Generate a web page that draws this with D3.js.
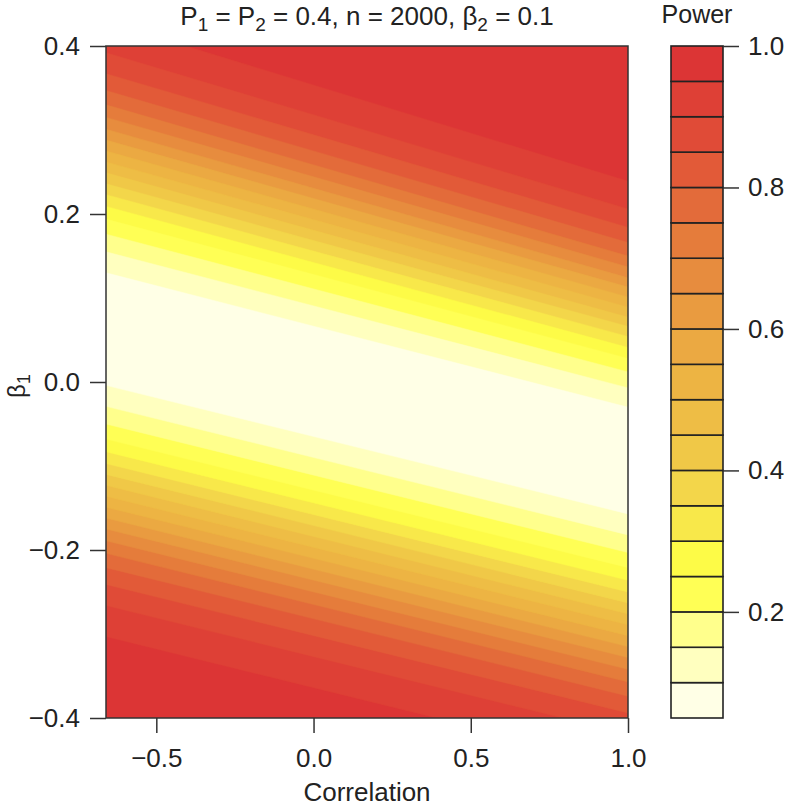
<!DOCTYPE html>
<html>
<head>
<meta charset="utf-8">
<script src="https://cdn.jsdelivr.net/npm/d3@7"></script>
<style>
  body { margin: 0; background: #fff; }
  text { font-family: "Liberation Sans", Arial, sans-serif; fill: #222; }
</style>
</head>
<body>
<div id="chart"></div>
<script>
// contour levels of power and where each level line meets the left / right plot edge (beta1 values)
var corrEnds = [-0.66, 1.0];
var levels = [0.10, 0.15, 0.20, 0.25, 0.30, 0.35, 0.40, 0.45, 0.50, 0.55, 0.60, 0.65, 0.70, 0.75, 0.80, 0.85, 0.90, 0.95];
var upperLeft  = [0.130, 0.155, 0.176, 0.194, 0.209, 0.223, 0.236, 0.249, 0.262, 0.275, 0.288, 0.301, 0.315, 0.330, 0.347, 0.367, 0.392, 0.429];
var lowerLeft  = [-0.004, -0.029, -0.050, -0.068, -0.083, -0.097, -0.110, -0.123, -0.136, -0.149, -0.162, -0.175, -0.189, -0.204, -0.221, -0.241, -0.266, -0.303];
var upperRight = [-0.030, -0.007, 0.012, 0.028, 0.041, 0.054, 0.066, 0.077, 0.089, 0.101, 0.113, 0.124, 0.137, 0.150, 0.166, 0.184, 0.206, 0.239];
var lowerRight = [-0.157, -0.182, -0.203, -0.221, -0.236, -0.250, -0.263, -0.276, -0.289, -0.302, -0.315, -0.328, -0.342, -0.357, -0.374, -0.394, -0.419, -0.456];

// colour key: band lower bounds and colours
var bandStarts = [0.05, 0.10, 0.15, 0.20, 0.25, 0.30, 0.35, 0.40, 0.45, 0.50, 0.55, 0.60, 0.65, 0.70, 0.75, 0.80, 0.85, 0.90, 0.95];
var bandColors = ["#FFFFE6", "#FFFFBF", "#FFFF8C", "#FFFF55", "#FDFB47", "#F8E84A", "#F3D64A", "#F0C847", "#EEBD45",
                  "#EDB443", "#EBA942", "#E99B40", "#E78C3E", "#E57C3B", "#E36B3A", "#E25A38", "#E04B37", "#DE4036", "#DC3535"];
var bandStep = 0.05;

var xTicks = [-0.5, 0.0, 0.5, 1.0];
var yTicks = [-0.4, -0.2, 0.0, 0.2, 0.4];
var keyTicks = [0.2, 0.4, 0.6, 0.8, 1.0];

var W = 789, H = 806;
var plot = {left: 106, right: 628, top: 46, bottom: 718};
var key = {left: 671, right: 723};

var svg = d3.select("#chart").append("svg")
  .attr("width", W)
  .attr("height", H);

var x = d3.scaleLinear().domain([corrEnds[0], corrEnds[1]]).range([plot.left, plot.right]);
var y = d3.scaleLinear().domain([-0.4, 0.4]).range([plot.bottom, plot.top]);

svg.append("clipPath").attr("id", "plotclip")
  .append("rect")
  .attr("x", plot.left).attr("y", plot.top)
  .attr("width", plot.right - plot.left).attr("height", plot.bottom - plot.top);

var g = svg.append("g").attr("clip-path", "url(#plotclip)");

// highest band fills the whole plot, then each level's inner region is painted over it
g.append("rect")
  .attr("x", plot.left).attr("y", plot.top)
  .attr("width", plot.right - plot.left).attr("height", plot.bottom - plot.top)
  .attr("fill", bandColors[bandColors.length - 1]);

var idx = d3.range(levels.length).reverse();
g.selectAll("path.band")
  .data(idx)
  .enter()
  .append("path")
  .attr("class", "band")
  .attr("d", function(k) {
    var pts = [
      [x(corrEnds[0]), y(upperLeft[k])],
      [x(corrEnds[1]), y(upperRight[k])],
      [x(corrEnds[1]), y(lowerRight[k])],
      [x(corrEnds[0]), y(lowerLeft[k])]
    ];
    return "M" + pts.join("L") + "Z";
  })
  .attr("fill", function(k) { return bandColors[k]; })
  .attr("stroke", function(k) { return bandColors[k]; })
  .attr("stroke-width", 0.5);

// box
svg.append("rect")
  .attr("x", plot.left).attr("y", plot.top)
  .attr("width", plot.right - plot.left).attr("height", plot.bottom - plot.top)
  .attr("fill", "none")
  .attr("stroke", "#333")
  .attr("stroke-width", 1.5);

// axes
var fmt = d3.format(".1f");
var xAxis = svg.append("g")
  .attr("transform", "translate(0," + plot.bottom + ")")
  .call(d3.axisBottom(x).tickValues(xTicks).tickFormat(fmt).tickSize(15).tickPadding(16));
var yAxis = svg.append("g")
  .attr("transform", "translate(" + plot.left + ",0)")
  .call(d3.axisLeft(y).tickValues(yTicks).tickFormat(fmt).tickSize(16).tickPadding(10));

[xAxis, yAxis].forEach(function(a) {
  a.select(".domain").remove();
  a.selectAll("line").attr("stroke", "#333").attr("stroke-width", 1.5);
  a.selectAll("text").style("font-size", "26px").attr("fill", "#222");
});

// colour key
var yKey = d3.scaleLinear().domain([bandStarts[0], 1.0]).range([plot.bottom, plot.top]);

svg.selectAll("rect.key")
  .data(bandStarts)
  .enter()
  .append("rect")
  .attr("class", "key")
  .attr("x", key.left)
  .attr("width", key.right - key.left)
  .attr("y", function(d) { return yKey(d + bandStep); })
  .attr("height", function(d) { return yKey(d) - yKey(d + bandStep); })
  .attr("fill", function(d, i) { return bandColors[i]; })
  .attr("stroke", "#222")
  .attr("stroke-width", 1.6);

var keyAxis = svg.append("g")
  .attr("transform", "translate(" + key.right + ",0)")
  .call(d3.axisRight(yKey).tickValues(keyTicks).tickFormat(fmt).tickSize(16).tickPadding(9));
keyAxis.select(".domain").remove();
keyAxis.selectAll("line").attr("stroke", "#333").attr("stroke-width", 1.5);
keyAxis.selectAll("text").style("font-size", "26px").attr("fill", "#222");

svg.append("text")
  .attr("x", (key.left + key.right) / 2)
  .attr("y", 23)
  .attr("text-anchor", "middle")
  .style("font-size", "25px")
  .text("Power");

// title with subscripts
var title = svg.append("text")
  .attr("x", (plot.left + plot.right) / 2)
  .attr("y", 25)
  .attr("text-anchor", "middle")
  .style("font-size", "26px");
var parts = [["P", 0], ["1", 1], [" = P", 0], ["2", 1], [" = 0.4, n = 2000, \u03b2", 0], ["2", 1], [" = 0.1", 0]];
var prevSub = 0;
parts.forEach(function(p) {
  var t = title.append("tspan").text(p[0]);
  if (p[1]) { t.attr("dy", 6).style("font-size", "19px"); }
  else if (prevSub) { t.attr("dy", -6); }
  prevSub = p[1];
});

// axis titles
svg.append("text")
  .attr("x", (plot.left + plot.right) / 2)
  .attr("y", 801)
  .attr("text-anchor", "middle")
  .style("font-size", "26px")
  .text("Correlation");

var ylab = svg.append("text")
  .attr("transform", "translate(25," + ((plot.top + plot.bottom) / 2 + 4) + ") rotate(-90)")
  .attr("text-anchor", "middle")
  .style("font-size", "24px");
ylab.append("tspan").text("\u03b2");
ylab.append("tspan").attr("dy", 5).style("font-size", "18px").text("1");
</script>
</body>
</html>
